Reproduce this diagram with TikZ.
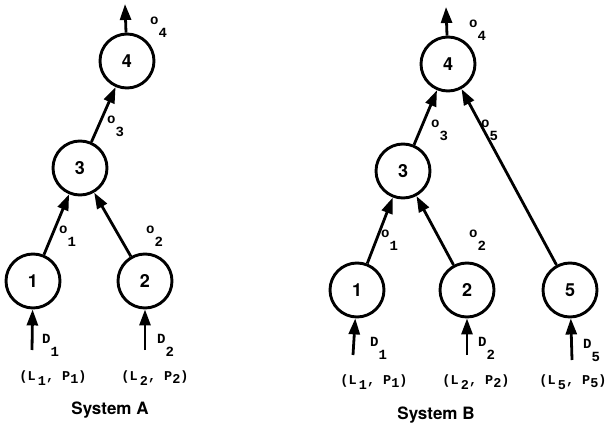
\documentclass[tikz,border=0pt]{standalone}
\usepackage{fontspec}
\setsansfont{TeX Gyre Heros}
\setmonofont{Liberation Mono}
\usetikzlibrary{arrows.meta}
% output / flow label with lowered index
\newcommand{\olbl}[2]{#1\raisebox{-0.9em}{#2}}
\newcommand{\lp}[2]{(L\,\raisebox{-0.35em}{#1}, P\raisebox{-0.25em}{#2})}
\begin{document}
\begin{tikzpicture}[x=1pt,y=-1pt,
  proc/.style={circle, draw, line width=2.9pt, minimum size=54pt, inner sep=0pt,
    font=\sffamily\bfseries\fontsize{18}{18}\selectfont},
  flow/.style={line width=2.8pt, -{Triangle[length=16pt,width=11pt]}},
  tag/.style={font=\ttfamily\bfseries\fontsize{14}{14}\selectfont, inner sep=0pt, anchor=north west},
  pair/.style={font=\ttfamily\bfseries\fontsize{13.5}{13.5}\selectfont, inner sep=0pt},
  title/.style={font=\sffamily\bfseries\fontsize{17}{17}\selectfont}]
\useasboundingbox (0,0) rectangle (607,430);
% System A
\node[proc] (A4) at (127,61) {4};
\node[proc] (A3) at (80,168) {3};
\node[proc] (A1) at (33,281) {1};
\node[proc] (A2) at (145,281) {2};
\coordinate (A4out) at (125,4);
\coordinate (A1in) at (32,350);
\coordinate (A2in) at (145,350);
\draw[flow] (A4) -- (A4out);
\draw[flow] (A3) -- (A4);
\draw[flow] (A1) -- (A3);
\draw[flow] (A2) -- (A3);
\draw[flow] (A1in) -- (A1);
\draw[flow] (A2in) -- (A2);
\node[tag] (Ao4) at (150,17) {\olbl{o}{4}};
\node[tag] (Ao3) at (107,116) {\olbl{o}{3}};
\node[tag] (Ao1) at (59,226) {\olbl{o}{1}};
\node[tag] (Ao2) at (146,226) {\olbl{o}{2}};
\node[tag] (AD1) at (42,334) {\olbl{D}{1}};
\node[tag] (AD2) at (157,334) {\olbl{D}{2}};
\node[pair] (Alp1) at (53,378) {\lp{1}{1}};
\node[pair] (Alp2) at (155,378) {\lp{2}{2}};
\node[title] (Atitle) at (110,410) {System A};
% System B
\node[proc] (B4) at (448,64) {4};
\node[proc] (B3) at (403,171) {3};
\node[proc] (B1) at (357,290) {1};
\node[proc] (B2) at (467,290) {2};
\node[proc] (B5) at (570,290) {5};
\coordinate (B4out) at (446,7);
\coordinate (B1in) at (353,355);
\coordinate (B2in) at (467,355);
\coordinate (B5in) at (572,360);
\draw[flow] (B4) -- (B4out);
\draw[flow] (B3) -- (B4);
\draw[flow] (B5) -- (B4);
\draw[flow] (B1) -- (B3);
\draw[flow] (B2) -- (B3);
\draw[flow] (B1in) -- (B1);
\draw[flow] (B2in) -- (B2);
\draw[flow] (B5in) -- (B5);
\node[tag] (Bo4) at (469,20) {\olbl{o}{4}};
\node[tag] (Bo3) at (431,120) {\olbl{o}{3}};
\node[tag] (Bo5) at (481,120) {\olbl{o}{5}};
\node[tag] (Bo1) at (381,230) {\olbl{o}{1}};
\node[tag] (Bo2) at (469,230) {\olbl{o}{2}};
\node[tag] (BD1) at (370,337) {\olbl{D}{1}};
\node[tag] (BD2) at (478,337) {\olbl{D}{2}};
\node[tag] (BD5) at (583,339) {\olbl{D}{5}};
\node[pair] (Blp1) at (374,382) {\lp{1}{1}};
\node[pair] (Blp2) at (476,382) {\lp{2}{2}};
\node[pair] (Blp5) at (573,382) {\lp{5}{5}};
\node[title] (Btitle) at (436,415) {System B};
\end{tikzpicture}
\end{document}
